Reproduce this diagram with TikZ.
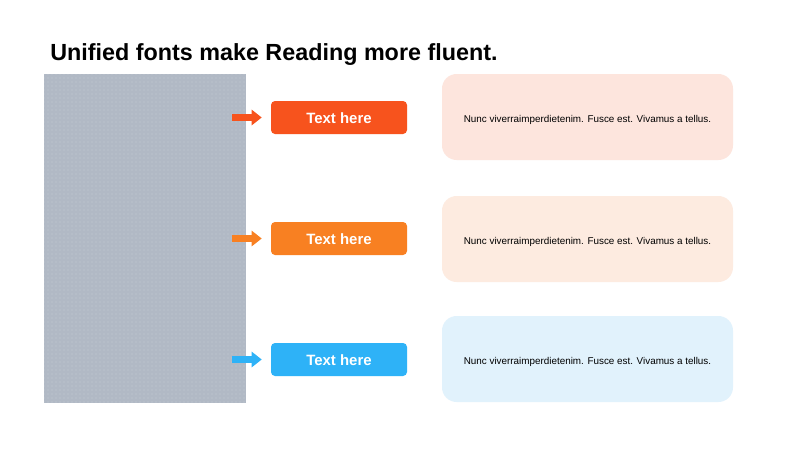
\documentclass[tikz,border=0pt]{standalone}
\usepackage{fontspec}
\setmainfont{Liberation Sans}
\usetikzlibrary{arrows.meta,patterns}
\definecolor{cRed}{HTML}{F7531D}
\definecolor{cOrange}{HTML}{F88022}
\definecolor{cBlue}{HTML}{2EB2F7}
\definecolor{bRed}{HTML}{FDE5DD}
\definecolor{bOrange}{HTML}{FDEBE0}
\definecolor{bBlue}{HTML}{E1F2FC}
\definecolor{imgGray}{HTML}{B1B9C5}
\newcommand{\bodytext}{Nunc viverraimperdietenim. Fusce est. Vivamus a tellus.}
\tikzset{
  btn/.style={rounded corners=3pt, minimum width={136*0.75pt}, minimum height={33*0.75pt},
    inner sep=0pt, text=white, font=\fontsize{11.2pt}{13pt}\selectfont\bfseries,
    text height=9.4pt, text depth=0pt},
  infobox/.style={rounded corners=11pt, minimum width={291*0.75pt}, minimum height={86*0.75pt},
    inner sep=0pt, text=black, font=\fontsize{7.4pt}{9pt}\selectfont,
    text height=8.2pt, text depth=0pt},
  pointer/.style={line width={7*0.75pt}, -{Triangle[length={10*0.75pt},width={15*0.75pt}]}, shorten >={9*0.75pt}}
}
\begin{document}
\begin{tikzpicture}[x=0.75pt,y=-0.75pt]
\useasboundingbox (0,0) rectangle (800,450);
\fill[white] (0,0) rectangle (800,450);
% title
\node[anchor=base west, inner sep=0pt, font=\fontsize{17.5pt}{21pt}\selectfont\bfseries] (title) at (50,60) {Unified fonts make Reading more fluent.};
% image placeholder
\fill[imgGray] (44,74) rectangle (246,403);
\fill[pattern=dots, pattern color=white, opacity=0.25] (44,74) rectangle (246,403);
% buttons
\node[btn, fill=cRed] (b1) at (339,117.5) {Text here};
\node[btn, fill=cOrange] (b2) at (339,238.5) {Text here};
\node[btn, fill=cBlue] (b3) at (339,359.5) {Text here};
% info boxes
\node[infobox, fill=bRed] (t1) at (587.5,117) {\bodytext};
\node[infobox, fill=bOrange] (t2) at (587.5,239) {\bodytext};
\node[infobox, fill=bBlue] (t3) at (587.5,359) {\bodytext};
% arrows
\coordinate (s1) at (232,117.5);
\coordinate (s2) at (232,238.5);
\coordinate (s3) at (232,359.5);
\draw[pointer, draw=cRed, fill=cRed] (s1) -- (b1.west);
\draw[pointer, draw=cOrange, fill=cOrange] (s2) -- (b2.west);
\draw[pointer, draw=cBlue, fill=cBlue] (s3) -- (b3.west);
\end{tikzpicture}
\end{document}
